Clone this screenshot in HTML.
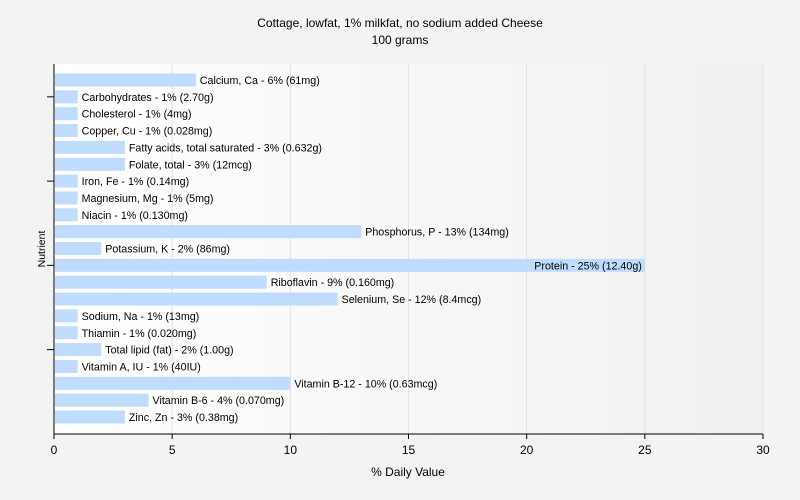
<!DOCTYPE html>
<html><head><style>
html,body{margin:0;background:#f3f3f2;font-family:"Liberation Sans",sans-serif;overflow:hidden;}
svg{display:block;}
svg text{font-family:"Liberation Sans",sans-serif;}
</style></head><body>
<svg width="800" height="500" xmlns="http://www.w3.org/2000/svg">
<defs><linearGradient id="bg" x1="0" x2="1" y1="0" y2="0"><stop offset="0" stop-color="#ffffff"/><stop offset="1" stop-color="#f0f0ef"/></linearGradient></defs>
<rect width="800" height="500" fill="#f3f3f2"/>
<rect x="54" y="64" width="709" height="370" fill="url(#bg)"/>
<text x="400" y="27" text-anchor="middle" font-size="12">Cottage, lowfat, 1% milkfat, no sodium added Cheese</text>
<text x="400" y="44" text-anchor="middle" font-size="12">100 grams</text>
<g id="grid"></g><g id="bars"></g><g id="axes"></g>
<text x="408" y="476" text-anchor="middle" font-size="12">% Daily Value</text>
<text transform="translate(45,249) rotate(-90)" text-anchor="middle" font-size="10.5">Nutrient</text>
</svg>
<script>
const categories=["Calcium, Ca","Carbohydrates","Cholesterol","Copper, Cu","Fatty acids, total saturated","Folate, total","Iron, Fe","Magnesium, Mg","Niacin","Phosphorus, P","Potassium, K","Protein","Riboflavin","Selenium, Se","Sodium, Na","Thiamin","Total lipid (fat)","Vitamin A, IU","Vitamin B-12","Vitamin B-6","Zinc, Zn"];
const values=[6,1,1,1,3,3,1,1,1,13,2,25,9,12,1,1,2,1,10,4,3];
const amounts=["61mg","2.70g","4mg","0.028mg","0.632g","12mcg","0.14mg","5mg","0.130mg","134mg","86mg","12.40g","0.160mg","8.4mcg","13mg","0.020mg","1.00g","40IU","0.63mcg","0.070mg","0.38mg"];
const xTicks=[0,5,10,15,20,25,30];
const NS="http://www.w3.org/2000/svg";
const x0=54,x1=763,yTop=64,yBot=434;
const xs=v=>x0+(x1-x0)*v/30;
const yc=i=>80+i*16.85;
function mk(t,a,p){const e=document.createElementNS(NS,t);for(const k in a)e.setAttribute(k,a[k]);p.appendChild(e);return e;}
const grid=document.getElementById('grid'),bars=document.getElementById('bars'),axes=document.getElementById('axes');
xTicks.forEach(t=>{
 if(t>0){const g=mk('line',{x1:xs(t),x2:xs(t),y1:yTop,y2:yBot,stroke:'#e2e2e2'},grid);
 
 }
 const tk=mk('line',{x1:xs(t),x2:xs(t),y1:yBot,y2:yBot+5,stroke:'#000'},axes);
 
 
 const tl=mk('text',{x:xs(t),y:yBot+20,'text-anchor':'middle','font-size':12},axes);
 tl.textContent=t;
 
 
});
categories.forEach((c,i)=>{
 const y=yc(i),w=xs(values[i])-x0-1;
 const r=mk('rect',{x:x0+1,y:y-6.5,width:w,height:13,fill:'#bfdbfd'},bars);
 
 
 const lab=c+' - '+values[i]+'% ('+amounts[i]+')';
 const inside=values[i]>=20;
 const t=mk('text',{x:inside?xs(values[i])-3:xs(values[i])+4,y:y+4,'text-anchor':inside?'end':'start','font-size':10.7},bars);
 t.textContent=lab;
 
 
});
[1,6,11,16].forEach(i=>{
 const l=mk('line',{x1:47,x2:x0,y1:yc(i),y2:yc(i),stroke:'#000'},axes);
 
 
});
const ya=mk('line',{x1:x0,x2:x0,y1:yTop,y2:yBot,stroke:'#000'},axes);


const xa=mk('line',{x1:x0,x2:x1,y1:yBot,y2:yBot,stroke:'#000'},axes);


</script>
</body></html>
